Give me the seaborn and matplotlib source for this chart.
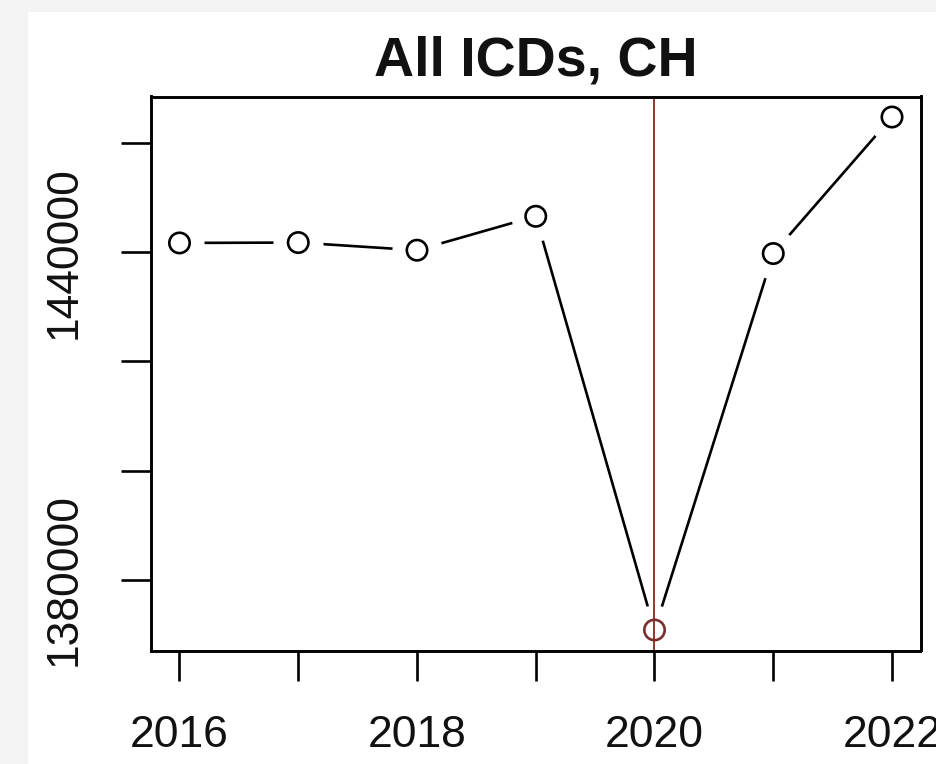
import matplotlib
matplotlib.use("Agg")
import matplotlib.pyplot as plt
from matplotlib.patches import Rectangle
import seaborn as sns
import pandas as pd

years = [2016, 2017, 2018, 2019, 2020, 2021, 2022]
values = [1441700, 1441770, 1440370, 1446580, 1370850, 1439760, 1464750]
x_ticks = [2016, 2017, 2018, 2019, 2020, 2021, 2022]
x_labels = ["2016", "", "2018", "", "2020", "", "2022"]
y_ticks = [1380000, 1400000, 1420000, 1440000, 1460000]
y_labels = ["1380000", "", "", "1440000", ""]
title = "All ICDs, CH"
highlight_year = 2020

sns.set_theme(style="white")
plt.rcParams['font.family'] = ['Liberation Sans', 'DejaVu Sans']

df = pd.DataFrame({"year": years, "value": values})

W, H = 937, 764
fig = plt.figure(figsize=(W / 100, H / 100), dpi=100, facecolor="#f4f4f4")
fig.patches.append(Rectangle((28 / W, 0), 1, (H - 12) / H, transform=fig.transFigure,
                             facecolor="white", edgecolor="none", zorder=-10))
ax = fig.add_axes([151 / W, (H - 650.5) / H, (920.5 - 151) / W, (650.5 - 96.5) / H])
ax.set_zorder(5)
ax.set_facecolor("white")

sns.lineplot(data=df, x="year", y="value", ax=ax, color="black", linewidth=1.9, zorder=2)
# white discs to create the gaps of R's type="b"
sns.scatterplot(data=df, x="year", y="value", ax=ax, color="white", s=1300,
                linewidth=0, zorder=2.1, legend=False)
ax.axvline(highlight_year, color="#8b3a2a", linewidth=1.4, zorder=2.2)
cols = ["#7a2e2e" if y == highlight_year else "black" for y in years]
ax.scatter(df["year"], df["value"], s=215, facecolors="none", edgecolors=cols,
           linewidths=1.9, zorder=3)

lo, hi = min(values), max(values)
r = hi - lo
ax.set_ylim(lo - 0.04 * r, hi + 0.04 * r)
ax.set_xlim(2016 - 0.24, 2022 + 0.24)

ax.set_xticks(x_ticks)
ax.set_xticklabels(x_labels)
ax.set_yticks(y_ticks)
ax.set_yticklabels(y_labels)
ax.set_xlabel("")
ax.set_ylabel("")

ax.tick_params(axis="both", which="major", length=21.5, width=1.9, color="black",
               labelsize=32, labelcolor="#111111", bottom=True, left=True)
ax.tick_params(axis="x", pad=25)
ax.tick_params(axis="y", pad=26, labelrotation=90)
for lab in ax.get_yticklabels():
    lab.set_va("center")

for s in ax.spines.values():
    s.set_visible(True)
    s.set_color("black")
    s.set_linewidth(2.1)

ax.set_title(title, fontsize=40, fontweight="bold", pad=15, color="#111111")

fig.savefig("out.png", dpi=100, facecolor=fig.get_facecolor())
